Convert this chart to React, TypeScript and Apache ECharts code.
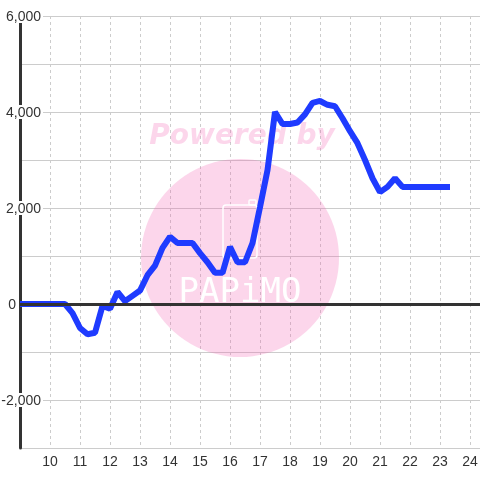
import React, { useEffect, useRef } from "react";
import * as echarts from "echarts";

const hours = [
  9, 10.5, 10.75, 11, 11.25, 11.5, 11.75, 12, 12.25, 12.5, 12.75,
  13, 13.25, 13.5, 13.75, 14, 14.25, 14.5, 14.75,
  15, 15.25, 15.5, 15.75, 16, 16.25, 16.5, 16.75,
  17, 17.25, 17.5, 17.75, 18, 18.25, 18.5, 18.75,
  19, 19.25, 19.5, 19.75, 20, 20.25, 20.5, 20.75,
  21, 21.25, 21.5, 21.75, 22, 23.333,
];
const values = [
  0, 0, -190, -500, -630, -600, -40, -100, 250, 60, 170,
  280, 600, 800, 1170, 1400, 1270, 1270, 1270,
  1060, 870, 650, 650, 1190, 870, 870, 1270,
  2020, 2790, 4000, 3750, 3750, 3780, 3950, 4190,
  4230, 4150, 4120, 3870, 3600, 3350, 3000, 2620,
  2330, 2440, 2620, 2440, 2440, 2440,
];
const xMin = 9;
const xMax = 24.3667;
const yMin = -3000;
const yMax = 6000;
const watermarkTop = "Powered by";
const watermarkBrand = "PAPiMO";

export default function App() {
  const ref = useRef<HTMLDivElement>(null);
  useEffect(() => {
    if (!ref.current) return;
    const chart = echarts.init(ref.current, null, { renderer: "svg" });
    const data = hours.map((h, i) => [h, values[i]]);
    const pink = "rgba(243,91,175,0.25)";
    chart.setOption({
      animation: false,
      grid: { left: 20, right: -1, top: 16, bottom: 32, containLabel: false, outerBoundsMode: "none" },
      xAxis: {
        type: "value",
        min: xMin,
        max: xMax,
        interval: 1,
        axisLine: { show: false },
        axisTick: { show: false },
        axisLabel: {
          color: "#333",
          fontSize: 14,
          fontFamily: "Liberation Sans",
          margin: 6,
          formatter: (v: number) => (Number.isInteger(v) && v > 9 && v <= 24 ? String(v) : ""),
        },
        splitLine: { show: true, lineStyle: { color: "#ccc", type: [3, 3], width: 1 } },
      },
      yAxis: {
        type: "value",
        min: yMin,
        max: yMax,
        interval: 1000,
        axisLine: { show: true, onZero: false, lineStyle: { color: "#333", width: 3 } },
        axisTick: { show: false },
        axisLabel: {
          margin: -23,
          align: "right",
          formatter: (v: number) => {
            if (v === 0) return "{z|0}";
            if (v % 2000 === 0) return "{a|" + v.toLocaleString("en-US") + "}";
            return "";
          },
          rich: {
            a: {
              color: "#333",
              fontSize: 14,
              fontFamily: "Liberation Sans",
              backgroundColor: "#fff",
              padding: [0, 2, 0, 0],
              lineHeight: 14,
            },
            z: {
              color: "#333",
              fontSize: 14,
              fontFamily: "Liberation Sans",
              padding: [0, 27, 0, 0],
              lineHeight: 14,
            },
          },
        },
        splitLine: { show: true, lineStyle: { color: "#ccc", width: 1 } },
      },
      graphic: [
        {
          type: "circle",
          silent: true,
          z: 1,
          shape: { cx: 240, cy: 258, r: 99 },
          style: { fill: pink },
        },
        {
          type: "text",
          silent: true,
          z: 1,
          x: 242,
          y: 134,
          style: {
            text: watermarkTop,
            font: 'italic bold 28px "DejaVu Sans"',
            fill: pink,
            textAlign: "center",
            textVerticalAlign: "middle",
          },
        },
        {
          type: "rect",
          silent: true,
          z: 1,
          shape: { x: 223, y: 205, width: 34, height: 53, r: 3 },
          style: { fill: "none", stroke: "#fff", lineWidth: 1.5 },
        },
        {
          type: "rect",
          silent: true,
          z: 1,
          shape: { x: 249, y: 200, width: 7, height: 5, r: 1 },
          style: { fill: "none", stroke: "#fff", lineWidth: 1.5 },
        },
        {
          type: "text",
          silent: true,
          z: 1,
          x: 240,
          y: 290,
          style: {
            text: watermarkBrand,
            font: '34px "DejaVu Sans Mono"',
            fill: "#fff",
            textAlign: "center",
            textVerticalAlign: "middle",
          },
        },
      ],
      series: [
        {
          type: "line",
          data,
          showSymbol: false,
          symbol: "none",
          z: 3,
          lineStyle: { color: "#1f3bff", width: 6, join: "bevel" },
          markLine: {
            silent: true,
            symbol: "none",
            label: { show: false },
            lineStyle: { color: "#333", width: 3, type: "solid" },
            data: [{ yAxis: 0 }],
          },
        },
      ],
    });
    return () => chart.dispose();
  }, []);
  return <div ref={ref} style={{ position: "fixed", left: 0, top: 0, width: 480, height: 480 }} />;
}
